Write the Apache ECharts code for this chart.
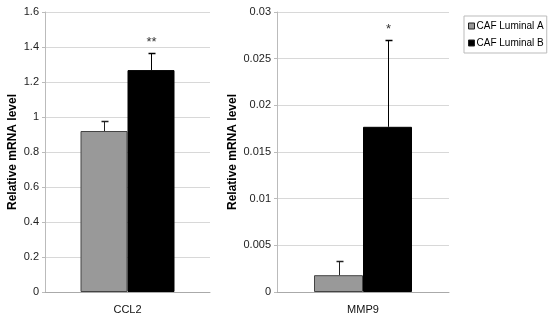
<!DOCTYPE html>
<html>
<head>
<meta charset="utf-8">
<script src="https://cdn.jsdelivr.net/npm/echarts@6/dist/echarts.min.js"></script>
<style>html,body{margin:0;padding:0;background:#fff;}#c{width:550px;height:324px;}</style>
</head>
<body>
<div id="c"></div>
<script>
const categories = ['CCL2', 'MMP9'];
const seriesNames = ['CAF Luminal A', 'CAF Luminal B'];
const luminalA = [0.92, 0.0018];
const luminalB = [1.268, 0.0177];
const errA = [0.06, 0.0015];
const errB = [0.097, 0.0093];
const significance = ['**', '*'];
const yMax = [1.6, 0.03];
const yInterval = [0.2, 0.005];

const chart = echarts.init(document.getElementById('c'));
const FONT = 'Liberation Sans, Arial, sans-serif';
const barWidths = [47, 49];
const colors = ['#999999', '#000000'];

function errSeries(idx) {
  return {
    type: 'custom',
    xAxisIndex: idx, yAxisIndex: idx,
    silent: true, z: 5,
    data: [[0, luminalA[idx], errA[idx]], [1, luminalB[idx], errB[idx]]],
    renderItem: function (params, api) {
      const which = api.value(0);
      const v = api.value(1), e = api.value(2);
      const c = api.coord([0, v]);
      const t = api.coord([0, v + e]);
      const bw = barWidths[idx];
      const x = Math.round(c[0] + (which === 0 ? -bw / 2 : bw / 2)) + 0.5;
      const ty = Math.round(t[1]) + 0.5;
      const lc = which === 0 ? '#222' : '#000';
      const children = [
        {type: 'line', shape: {x1: x, y1: c[1], x2: x, y2: ty}, style: {stroke: lc, lineWidth: 1}},
        {type: 'line', shape: {x1: x - 3, y1: ty, x2: x + 4, y2: ty}, style: {stroke: lc, lineWidth: 1.5}}
      ];
      const s = params.dataIndex === 1 ? significance[idx] : '';
      if (s) {
        children.push({type: 'text', x: x, y: ty - 5, style: {text: s, fill: '#333', font: '13px ' + FONT, align: 'center', verticalAlign: 'bottom'}});
      }
      return {type: 'group', children: children};
    }
  };
}

function yAxis(idx) {
  return {
    type: 'value', gridIndex: idx, min: 0, max: yMax[idx], interval: yInterval[idx],
    name: 'Relative mRNA level', nameLocation: 'middle', nameGap: idx === 0 ? 26 : 38,
    nameTextStyle: {fontFamily: FONT, fontWeight: 'bold', fontSize: 12, color: '#000'},
    axisLine: {show: true, lineStyle: {color: '#bbb'}},
    axisTick: {show: true, length: 3, lineStyle: {color: '#bbb'}},
    axisLabel: {fontFamily: FONT, fontSize: 11, color: '#222', margin: 6},
    splitLine: {show: true, lineStyle: {color: '#d8d8d8'}}
  };
}

function xAxis(idx) {
  return {
    type: 'category', gridIndex: idx, data: [categories[idx]],
    axisLine: {show: true, lineStyle: {color: '#aaa'}},
    axisTick: {show: false},
    axisLabel: {fontFamily: FONT, fontSize: 11, color: '#111', margin: 12}
  };
}

const series = [];
[0, 1].forEach(function (idx) {
  series.push({
    name: seriesNames[0], type: 'bar', xAxisIndex: idx, yAxisIndex: idx,
    data: [luminalA[idx]], barWidth: barWidths[idx], barGap: '0%',
    itemStyle: {color: colors[0], borderColor: '#444', borderWidth: 1}
  });
  series.push({
    name: seriesNames[1], type: 'bar', xAxisIndex: idx, yAxisIndex: idx,
    data: [luminalB[idx]], barWidth: barWidths[idx], barGap: '0%',
    itemStyle: {color: colors[1], borderColor: '#000', borderWidth: 1}
  });
  series.push(errSeries(idx));
});

chart.setOption({
  animation: false,
  grid: [
    {left: 45, top: 12, width: 165, height: 280},
    {left: 277, top: 12, width: 172, height: 280}
  ],
  xAxis: [xAxis(0), xAxis(1)],
  yAxis: [yAxis(0), yAxis(1)],
  legend: {
    data: seriesNames.map(function (n, i) { return {name: n, icon: 'rect', itemStyle: {color: colors[i], borderColor: '#222', borderWidth: 1}}; }),
    orient: 'vertical', left: 464, top: 16,
    itemWidth: 6, itemHeight: 6, itemGap: 7,
    padding: [5, 3, 5, 4],
    borderColor: '#bbb', borderWidth: 1,
    textStyle: {fontFamily: FONT, fontSize: 10, color: '#000', padding: [0, 0, 0, -3]}
  },
  series: series
});
</script>
</body>
</html>
